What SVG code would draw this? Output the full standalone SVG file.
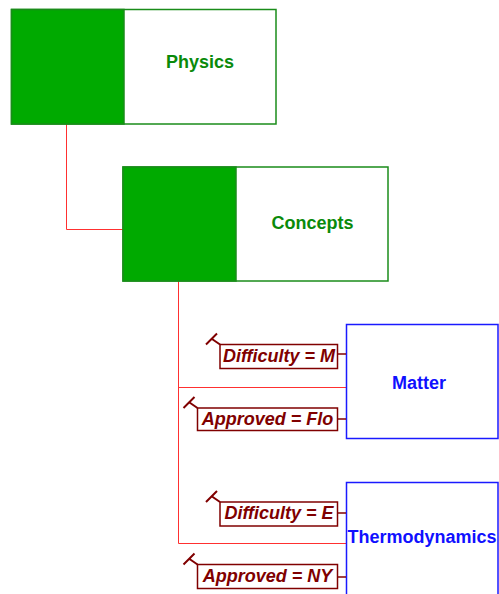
<svg xmlns="http://www.w3.org/2000/svg" width="499" height="594" viewBox="0 0 499 594">
<defs>
<style>
.gbox{fill:#ffffff;stroke:#1a8c1a;stroke-width:1.5}
.gfill{fill:#00aa00;stroke:#1a8c1a;stroke-width:1.5}
.gtxt{font-family:"Liberation Sans",Arial,sans-serif;font-weight:bold;font-size:18px;fill:#0a8a0a;text-anchor:middle}
.bbox{fill:#ffffff;stroke:#1a1aff;stroke-width:1.5}
.btxt{font-family:"Liberation Sans",Arial,sans-serif;font-weight:bold;font-size:18px;fill:#1010ff;text-anchor:middle}
.conn{fill:none;stroke:#ff3030;stroke-width:1}
.lbox{fill:#ffffff;stroke:#800000;stroke-width:1.5}
.lline{fill:none;stroke:#800000;stroke-width:1.5}
.ltxt{font-family:"Liberation Sans",Arial,sans-serif;font-weight:bold;font-style:italic;font-size:18px;fill:#800000;text-anchor:middle}
.tick{fill:none;stroke:#800000;stroke-width:2}
</style>
<path id="tk" class="tick" d="M -14,0 L -3,-11 M -8,-5.5 L 0,0"/>
</defs>
<g id="connectors">
<path class="conn" d="M 66.5,124 V 229.5 H 123"/>
<path class="conn" d="M 178.5,281 V 543.5 H 346"/>
<path class="conn" d="M 178.5,387.5 H 346"/>
</g>
<g id="physics">
<rect class="gbox" x="11.5" y="9.5" width="264.5" height="114.5"/>
<rect class="gfill" x="11.5" y="9.5" width="112.5" height="114.5"/>
<text class="gtxt" x="200" y="68">Physics</text>
</g>
<g id="concepts">
<rect class="gbox" x="123" y="167" width="265" height="114"/>
<rect class="gfill" x="123" y="167" width="113" height="114"/>
<text class="gtxt" x="312.5" y="228.5">Concepts</text>
</g>
<g id="matter">
<rect class="bbox" x="346.5" y="324.5" width="151.5" height="114"/>
<text class="btxt" x="419" y="389">Matter</text>
</g>
<g id="thermodynamics">
<rect class="bbox" x="346.5" y="482.5" width="151.5" height="125"/>
<text class="btxt" x="422" y="543">Thermodynamics</text>
</g>
<g id="label-matter-difficulty">
<path class="lline" d="M 337.5,354 H 346"/>
<rect class="lbox" x="220" y="344.5" width="117.5" height="24"/>
<use href="#tk" x="220" y="344.5"/>
<text class="ltxt" x="279" y="361.5">Difficulty = M</text>
</g>
<g id="label-matter-approved">
<path class="lline" d="M 337.5,419 H 346"/>
<rect class="lbox" x="197.5" y="408" width="140" height="22.5"/>
<use href="#tk" x="197.5" y="408"/>
<text class="ltxt" x="267.5" y="425">Approved = Flo</text>
</g>
<g id="label-thermo-difficulty">
<path class="lline" d="M 337.5,513 H 346"/>
<rect class="lbox" x="220" y="502" width="117.5" height="24"/>
<use href="#tk" x="220" y="502"/>
<text class="ltxt" x="279" y="519">Difficulty = E</text>
</g>
<g id="label-thermo-approved">
<path class="lline" d="M 337.5,577 H 346"/>
<rect class="lbox" x="197.5" y="564.5" width="140" height="24"/>
<use href="#tk" x="197.5" y="564.5"/>
<text class="ltxt" x="267.5" y="582">Approved = NY</text>
</g>
</svg>
